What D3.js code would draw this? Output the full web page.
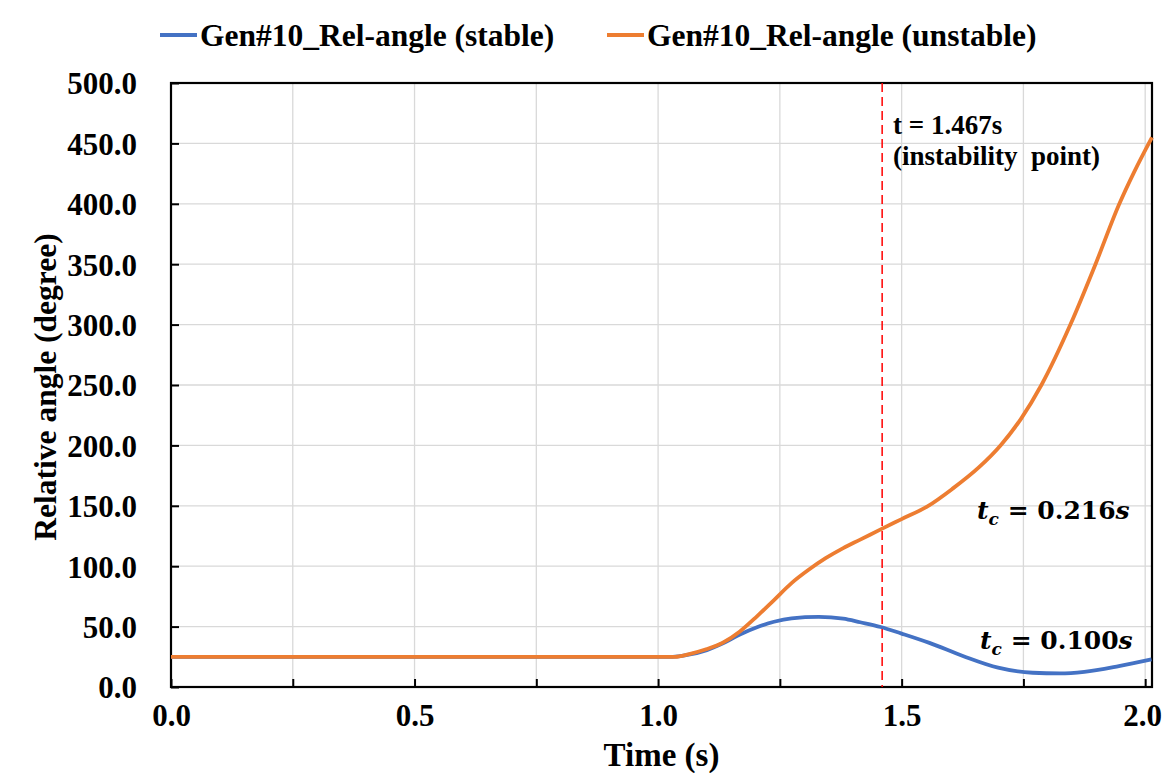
<!DOCTYPE html>
<html>
<head>
<meta charset="utf-8">
<script src="https://cdn.jsdelivr.net/npm/d3@7"></script>
<style>
  body { margin: 0; background: #fff; }
  text { font-family: "Liberation Serif", "Times New Roman", serif; font-weight: bold; fill: #000; }
  .math { font-family: "DejaVu Serif", serif; }
</style>
</head>
<body>
<svg></svg>
<script>
// values
const stableTime = [0, 1.03, 1.06, 1.10, 1.132, 1.168, 1.203, 1.238, 1.274, 1.33, 1.38, 1.415, 1.457, 1.5, 1.557, 1.627, 1.698, 1.769, 1.825, 1.875, 1.946, 2.013];
const stableAngle = [25, 25, 26.5, 30.5, 36, 43.5, 49.5, 54, 56.8, 58, 56.6, 53.6, 49.7, 44.2, 36.5, 25.5, 16, 11.8, 11.3, 12.6, 17.3, 22.8];

const unstableTime = [0, 1.035, 1.062, 1.097, 1.132, 1.168, 1.203, 1.238, 1.274, 1.309, 1.344, 1.38, 1.415, 1.457, 1.5, 1.553, 1.604, 1.659, 1.703, 1.745, 1.787, 1.8465, 1.898, 1.947, 1.977, 2.014];
const unstableAngle = [25, 25, 27, 31, 36.5, 46, 58.5, 72, 86, 97, 106.6, 115, 122, 130.5, 139, 149.5, 164, 182, 200, 222, 250, 300, 350, 400, 426, 455];

const seriesNames = ["Gen#10_Rel-angle (stable)", "Gen#10_Rel-angle (unstable)"];
const xTicks = [0, 0.25, 0.5, 0.75, 1.0, 1.25, 1.5, 1.75, 2.0];
const xLabels = [0, 0.5, 1.0, 1.5, 2.0];
const yTicks = [0, 50, 100, 150, 200, 250, 300, 350, 400, 450, 500];
const instabilityT = 1.46;

const w = 1162;
const h = 773;
const pLeft = 171, pRight = 1152, pTop = 83, pBottom = 687;

const svg = d3.select("svg").attr("width", w).attr("height", h);

const xScale = d3.scaleLinear().domain([0, 2.014]).range([pLeft, pRight]);
const yScale = d3.scaleLinear().domain([0, 500]).range([pBottom, pTop]);

// grid
svg.append("g").selectAll("line").data(yTicks).enter().append("line")
  .attr("x1", pLeft).attr("x2", pRight)
  .attr("y1", d => yScale(d)).attr("y2", d => yScale(d))
  .attr("stroke", "#d9d9d9").attr("stroke-width", 1.3);
svg.append("g").selectAll("line").data(xTicks).enter().append("line")
  .attr("x1", d => xScale(d)).attr("x2", d => xScale(d))
  .attr("y1", pTop).attr("y2", pBottom)
  .attr("stroke", "#d9d9d9").attr("stroke-width", 1.3);

// axes, ticks drawn inward
let axisX = d3.axisBottom(xScale).tickValues(xTicks).tickSizeInner(-8).tickSizeOuter(0)
  .tickFormat(d => xLabels.includes(d) ? d3.format(".1f")(d) : "");
let gx = svg.append("g").attr("transform", "translate(0," + pBottom + ")").call(axisX);
gx.selectAll("text").attr("dy", null).attr("y", 39).style("font-size", "31px");
// last label sits at the window edge, keep it inside
gx.selectAll("text").filter(d => d === 2.0).attr("x", -3);

let axisY = d3.axisLeft(yScale).tickValues(yTicks).tickSizeInner(-8).tickSizeOuter(0)
  .tickFormat(d3.format(".1f"));
let gy = svg.append("g").attr("transform", "translate(" + pLeft + ",0)").call(axisY);
gy.selectAll("text").attr("x", -34).attr("dy", "0.35em").style("font-size", "31px");

svg.selectAll(".domain").remove();
svg.selectAll(".tick line").attr("stroke", "#000").attr("stroke-width", 2);
svg.selectAll("g").attr("font-family", null).attr("font-size", null);

// plot border
svg.append("rect").attr("x", pLeft).attr("y", pTop)
  .attr("width", pRight - pLeft).attr("height", pBottom - pTop)
  .attr("fill", "none").attr("stroke", "#000").attr("stroke-width", 2.2);

// lines
const line = d3.line().x(d => xScale(d[0])).y(d => yScale(d[1])).curve(d3.curveMonotoneX);
svg.append("path").datum(d3.zip(stableTime, stableAngle))
  .attr("d", line).attr("fill", "none").attr("stroke", "#4472C4").attr("stroke-width", 3.8);
svg.append("path").datum(d3.zip(unstableTime, unstableAngle))
  .attr("d", line).attr("fill", "none").attr("stroke", "#ED7D31").attr("stroke-width", 3.8);

// instability marker
svg.append("line")
  .attr("x1", xScale(instabilityT)).attr("x2", xScale(instabilityT))
  .attr("y1", pTop).attr("y2", pBottom)
  .attr("stroke", "#ff0000").attr("stroke-width", 1.5).attr("stroke-dasharray", "9,5");

svg.append("text").attr("x", 893).attr("y", 134).style("font-size", "27px").text("t = 1.467s");
svg.append("text").attr("x", 893).attr("y", 165).style("font-size", "27px").attr("xml:space", "preserve").text("(instability  point)");

// t_c labels
const tcLabel = (x, y, val) => {
  let t = svg.append("text").attr("class", "math").attr("x", x).attr("y", y).style("font-size", "25px");
  t.append("tspan").style("font-style", "italic").text("t");
  t.append("tspan").style("font-style", "italic").style("font-size", "17px").attr("dy", 6).text("c");
  t.append("tspan").attr("dy", -6).attr("xml:space", "preserve").text(" = " + val);
  t.append("tspan").style("font-style", "italic").text("s");
};
tcLabel(977, 519, "0.216");
tcLabel(980, 649, "0.100");

// axis titles
svg.append("text").attr("x", (pLeft + pRight) / 2).attr("y", 766).attr("text-anchor", "middle")
  .style("font-size", "33px").text("Time (s)");
svg.append("text").attr("transform", "translate(56,387) rotate(-90)").attr("text-anchor", "middle")
  .style("font-size", "31.5px").text("Relative angle (degree)");

// legend
const legendColors = ["#4472C4", "#ED7D31"];
const legendX = [160, 607];
seriesNames.forEach((name, i) => {
  svg.append("line").attr("x1", legendX[i]).attr("x2", legendX[i] + 37)
    .attr("y1", 35).attr("y2", 35).attr("stroke", legendColors[i]).attr("stroke-width", 4);
  svg.append("text").attr("x", legendX[i] + 40).attr("y", 46).style("font-size", "31.5px").text(name);
});
</script>
</body>
</html>
